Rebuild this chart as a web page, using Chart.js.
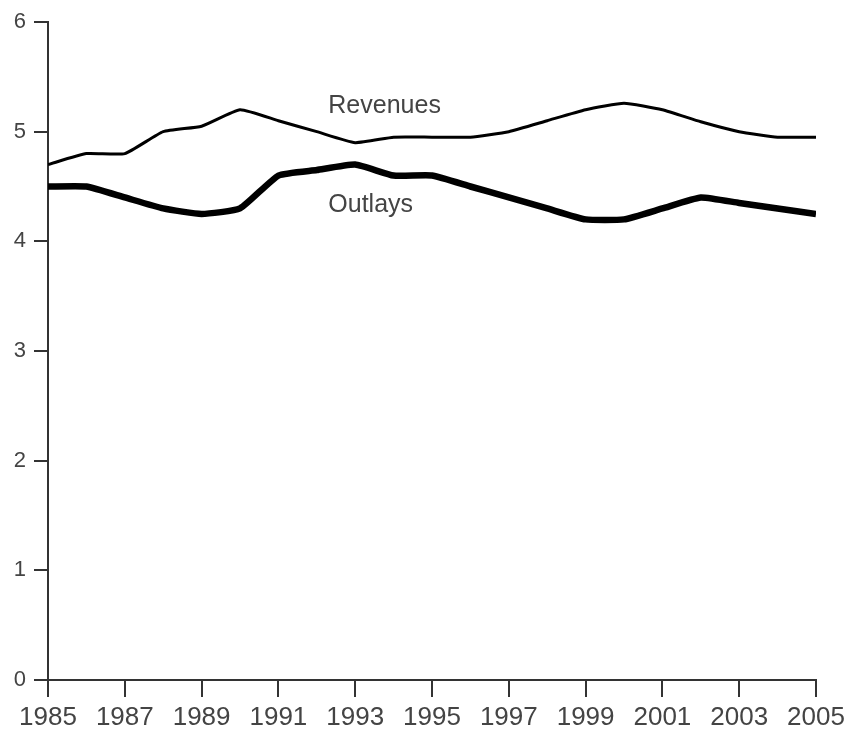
<!DOCTYPE html>
<html><head><meta charset="utf-8">
<script src="https://cdn.jsdelivr.net/npm/chart.js@4/dist/chart.umd.min.js"></script>
<style>html,body{margin:0;padding:0;background:#fff}#wrap{width:853px;height:732px}</style>
</head><body><div id="wrap"><canvas id="c" width="853" height="732"></canvas></div>
<script>
const years = [1985,1986,1987,1988,1989,1990,1991,1992,1993,1994,1995,1996,1997,1998,1999,2000,2001,2002,2003,2004,2005];
const revenues = [4.70,4.80,4.80,5.00,5.05,5.20,5.10,5.00,4.90,4.95,4.95,4.95,5.00,5.10,5.20,5.26,5.20,5.09,5.00,4.95,4.95];
const outlays = [4.50,4.50,4.40,4.30,4.25,4.30,4.60,4.65,4.70,4.60,4.60,4.50,4.40,4.30,4.20,4.20,4.30,4.40,4.35,4.30,4.25];
const yTicks = [0,1,2,3,4,5,6];
const seriesLabels = [{text:'Revenues', x:1992.3, y:5.23},{text:'Outlays', x:1992.3, y:4.33}];

const labelPlugin = {
  id:'lbls',
  afterDatasetsDraw(chart){
    const ctx = chart.ctx, xs = chart.scales.x, ys = chart.scales.y;
    ctx.save();
    ctx.fillStyle = '#444';
    ctx.font = '25px "Liberation Sans", Arial, sans-serif';
    ctx.textAlign = 'left'; ctx.textBaseline = 'middle';
    seriesLabels.forEach(l => ctx.fillText(l.text, xs.getPixelForValue(l.x), ys.getPixelForValue(l.y)));
    ctx.restore();
  }
};

new Chart(document.getElementById('c'), {
  type:'line',
  data:{datasets:[
    {label:'Revenues', data: years.map((y,i)=>({x:y,y:revenues[i]})), borderColor:'#000', borderWidth:3, pointRadius:0, tension:0.15, fill:false},
    {label:'Outlays', data: years.map((y,i)=>({x:y,y:outlays[i]})), borderColor:'#000', borderWidth:6.5, pointRadius:0, tension:0.15, fill:false}
  ]},
  options:{
    responsive:false, animation:false,
    layout:{padding:{top:22,right:37,left:0,bottom:0}},
    plugins:{legend:{display:false}, tooltip:{enabled:false}},
    scales:{
      x:{type:'linear', min:1985, max:2005,
        afterFit(s){ s.height = 52; },
        ticks:{stepSize:2, color:'#444', font:{family:'"Liberation Sans", Arial', size:26}, padding:5, maxRotation:0, autoSkip:false, callback:v=>String(v)},
        grid:{drawOnChartArea:false, drawTicks:true, tickLength:17, color:'#333', lineWidth:2},
        border:{display:true, color:'#333', width:2}
      },
      y:{min:0, max:6,
        afterFit(s){ s.width = 48; },
        afterBuildTicks(s){ s.ticks = yTicks.map(v=>({value:v})); },
        ticks:{color:'#444', font:{family:'"Liberation Sans", Arial', size:22}, padding:8},
        grid:{drawOnChartArea:false, drawTicks:true, tickLength:14, color:'#333', lineWidth:2},
        border:{display:true, color:'#333', width:2}
      }
    }
  },
  plugins:[labelPlugin]
});
</script></body></html>
